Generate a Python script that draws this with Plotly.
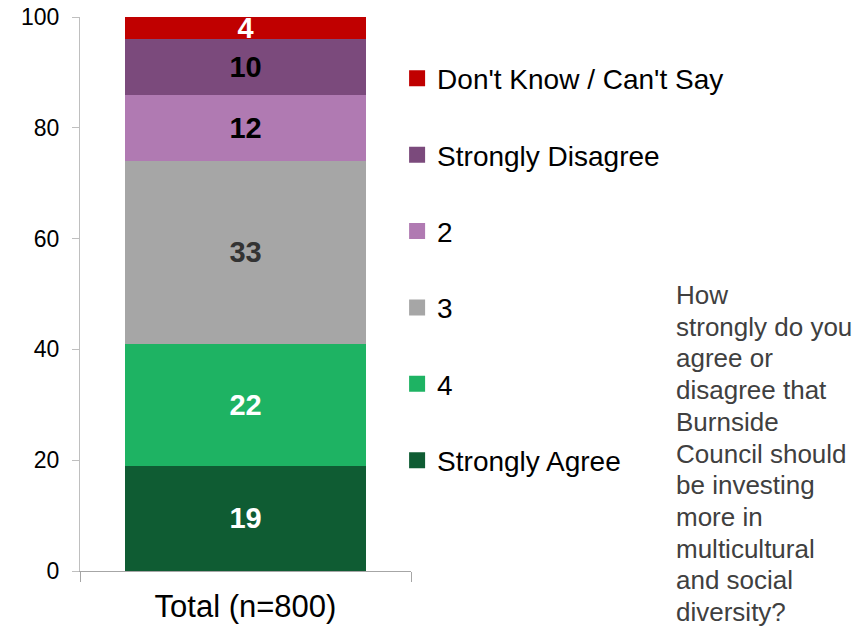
import plotly.graph_objects as go

categories = ["Total (n=800)"]
series_names = ["Strongly Agree", "4", "3", "2", "Strongly Disagree", "Don't Know / Can't Say"]
strongly_agree = [19]
agree_4 = [22]
neutral_3 = [33]
disagree_2 = [12]
strongly_disagree = [10]
dont_know = [4]
question_lines = ["How", "strongly do you", "agree or", "disagree that", "Burnside",
                  "Council should", "be investing", "more in", "multicultural",
                  "and social", "diversity?"]

series_values = [strongly_agree, agree_4, neutral_3, disagree_2, strongly_disagree, dont_know]
colors = ["#0F5C33", "#1EB363", "#A6A6A6", "#B07AB2", "#7B4A7C", "#C00000"]
label_colors = ["white", "white", "#333333", "black", "black", "white"]

fig = go.Figure()

for name, vals, color, lc in zip(series_names, series_values, colors, label_colors):
    fig.add_trace(go.Bar(
        x=categories,
        y=vals,
        name=name,
        marker=dict(color=color, line=dict(width=0)),
        text=[str(v) for v in vals],
        textposition="inside",
        insidetextanchor="middle",
        constraintext="none",
        textangle=0,
        textfont=dict(family="Liberation Sans", size=29, color=lc, weight="bold"),
        width=0.73,
        showlegend=False,
        hoverinfo="skip",
    ))

# legend entries (top to bottom: Don't Know ... Strongly Agree) with bigger squares
for i, (name, color) in enumerate(zip(series_names[::-1], colors[::-1])):
    fig.add_trace(go.Scatter(
        x=[None], y=[None],
        mode="markers",
        name=name,
        legendgroup=str(i),
        marker=dict(symbol="square", size=16, color=color),
    ))

# question text, one annotation per line to get the tighter line spacing
plot_h = 627 - 17 - 56
annotations = []
for i, line in enumerate(question_lines):
    y_px = 295 + 31.7 * i
    annotations.append(dict(
        text=line,
        xref="paper", yref="paper",
        x=(674 - 80) / 331, y=(571 - y_px) / plot_h,
        xanchor="left", yanchor="middle",
        align="left", showarrow=False,
        font=dict(size=26, color="#404040"),
    ))

fig.update_layout(
    barmode="stack",
    width=859,
    height=627,
    margin=dict(l=80, r=448, t=17, b=56),
    plot_bgcolor="white",
    paper_bgcolor="white",
    font=dict(family="Liberation Sans", color="black"),
    legend=dict(
        x=0.958, y=0.934, xanchor="left", yanchor="top",
        traceorder="grouped",
        tracegroupgap=37,
        font=dict(size=28, color="black"),
        bgcolor="rgba(0,0,0,0)",
    ),
    xaxis=dict(
        showline=True, linecolor="#A6A6A6", linewidth=1,
        ticks="outside", tickson="boundaries", ticklen=10, tickcolor="#A6A6A6",
        ticklabelstandoff=8,
        tickfont=dict(size=31, color="black"),
        showgrid=False, zeroline=False, automargin=False,
    ),
    yaxis=dict(
        range=[0, 100], tickvals=[0, 20, 40, 60, 80, 100],
        showline=True, linecolor="#BFBFBF", linewidth=1,
        ticks="outside", ticklen=7, tickcolor="#BFBFBF",
        ticklabelstandoff=8,
        tickfont=dict(size=23, color="black"),
        showgrid=False, zeroline=False, automargin=False,
    ),
    annotations=annotations,
)

fig.write_html("out.html", config={"displayModeBar": False},
               post_script="document.body.style.margin='0';")
